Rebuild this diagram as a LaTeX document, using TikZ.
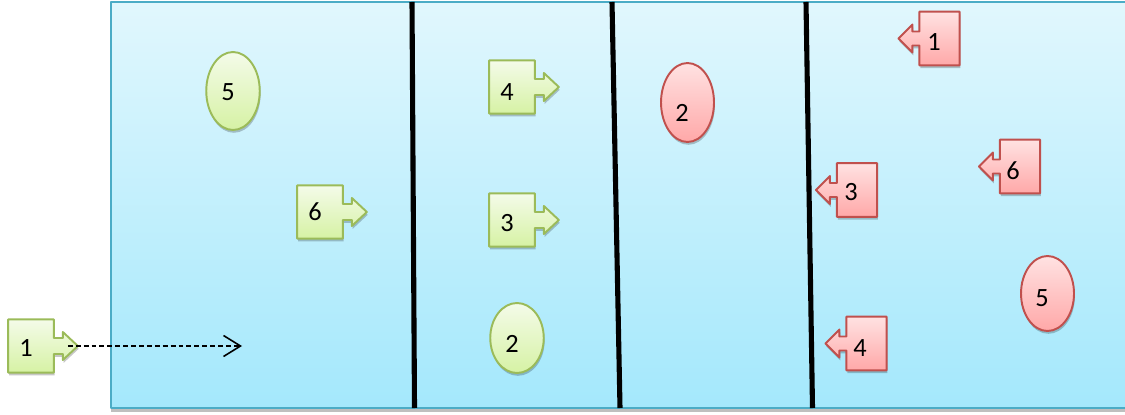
\documentclass[tikz,border=0pt]{standalone}
\usepackage{fontspec}
\setmainfont{Carlito}
\usepackage{xcolor}
\usetikzlibrary{arrows.meta,calc,shapes.geometric,shadows}

\definecolor{panelline}{RGB}{75,172,198}
\definecolor{paneltop}{RGB}{225,247,253}
\definecolor{panelbot}{RGB}{164,232,252}
\definecolor{grnline}{RGB}{155,187,89}
\definecolor{grntop}{RGB}{244,251,233}
\definecolor{grnbot}{RGB}{214,242,164}
\definecolor{redline}{RGB}{192,80,77}
\definecolor{redtop}{RGB}{255,226,226}
\definecolor{redbot}{RGB}{255,168,168}

\tikzset{
  softshadow/.style={drop shadow={shadow xshift=0.5pt,shadow yshift=-1.6pt,opacity=0.22,fill=black}},
  panel/.style={draw=panelline,line width=1.1pt,top color=paneltop,bottom color=panelbot,
    drop shadow={shadow xshift=0pt,shadow yshift=-2.4pt,opacity=0.25,fill=black}},
  gfill/.style={draw=grnline,line width=1.1pt,top color=grntop,bottom color=grnbot,softshadow},
  rfill/.style={draw=redline,line width=1.1pt,top color=redtop,bottom color=redbot,softshadow},
  gbox/.style={inner sep=0pt,minimum width=0.9cm,minimum height=1.05cm},
  rbox/.style={inner sep=0pt,minimum width=0.79cm,minimum height=1.06cm},
  gell/.style={ellipse,gfill,inner sep=0pt,minimum width=1.07cm},
  rell/.style={ellipse,rfill,inner sep=0pt,minimum width=1.06cm},
  num/.style={font=\fontsize{15}{17}\selectfont,inner sep=0pt},
  divider/.style={line width=2.9pt,line cap=butt},
  dashline/.style={line width=1pt,dash pattern=on 2.8pt off 1.7pt},
}

% green box with a tab to the right: name, box centre, digit centre, digit
\newcommand{\grncall}[4]{%
  \node[gbox] (#1) at (#2) {};
  \path[gfill] (#1.north west) -- (#1.north east) -- ($(#1.east)+(0,-8)$) -- ++(9,0)
    -- ++(0,-6) -- ($(#1.east)+(24,0)$) -- ($(#1.east)+(9,14)$) -- ++(0,-6)
    -- ($(#1.east)+(0,8)$) -- (#1.south east) -- (#1.south west) -- cycle;
  \node[num] (#1n) at (#3) {#4};}
% red box with a tab to the left
\newcommand{\redcall}[4]{%
  \node[rbox] (#1) at (#2) {};
  \path[rfill] (#1.north east) -- (#1.south east) -- (#1.south west) -- ($(#1.west)+(0,7)$)
    -- ++(-7,0) -- ++(0,7) -- ($(#1.west)+(-21,0)$) -- ($(#1.west)+(-7,-14)$) -- ++(0,7)
    -- ($(#1.west)+(0,-7)$) -- (#1.north west) -- cycle;
  \node[num] (#1n) at (#3) {#4};}

\begin{document}
\begin{tikzpicture}[x=0.02cm,y=-0.02cm,line join=round]
  \useasboundingbox (0,0) rectangle (1125,415);
  % field and the three lines
  \path[panel] (111,2) rectangle (1132,408);
  \draw[divider] (412,2) -- (414.5,408);
  \draw[divider] (612,2) -- (620,408);
  \draw[divider] (806,2) -- (812.5,408);
  % green side
  \grncall{g1}{31,346}{26,348}{1}
  \grncall{g6}{320,212}{315,212}{6}
  \grncall{g4}{512,87}{507,92}{4}
  \grncall{g3}{512,220}{507,223}{3}
  \node[gell,minimum height=1.56cm] (g5) at (233,91) {};
  \node[num] (g5n) at (228,92.5) {5};
  \node[gell,minimum height=1.40cm] (g2) at (517,338) {};
  \node[num] (g2n) at (512,344) {2};
  % red side
  \redcall{r1}{939.5,38.5}{934,42.5}{1}
  \redcall{r3}{857,190}{851,192.5}{3}
  \redcall{r6}{1020,166.5}{1013,171}{6}
  \redcall{r4}{866.5,343.5}{860,348.5}{4}
  \node[rell,minimum height=1.58cm] (r2) at (687.5,102.5) {};
  \node[num] (r2n) at (682,113) {2};
  \node[rell,minimum height=1.50cm] (r5) at (1047.5,293.5) {};
  \node[num] (r5n) at (1042,298) {5};
  % move of 1
  \coordinate (g1out) at ($(g1.east)+(14,0)$);
  \coordinate (aim) at (242,346);
  \draw[dashline,-{Straight Barb[length=0.34cm,width=0.42cm,line width=0.9pt]}] (g1out) -- (aim);
\end{tikzpicture}
\end{document}
